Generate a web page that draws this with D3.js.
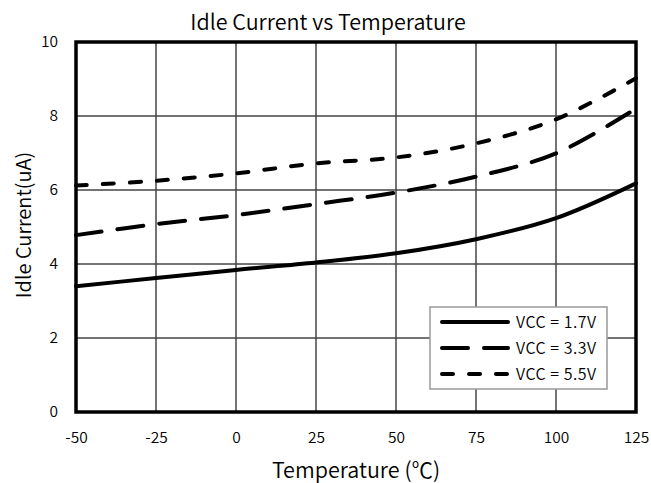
<!DOCTYPE html>
<html>
<head>
<meta charset="utf-8">
<script src="https://cdn.jsdelivr.net/npm/d3@7"></script>
<style>
  body { margin: 0; background: #fff; }
  text { font-family: "Noto Sans CJK SC", "Noto Sans", sans-serif; fill: #000; font-weight: 350; }
</style>
</head>
<body>
<svg id="chart" width="651" height="483"></svg>
<script>
const temps = [-50, -25, 0, 25, 50, 75, 100, 125];
const vcc17 = [3.40, 3.62, 3.84, 4.04, 4.29, 4.67, 5.24, 6.18];
const vcc33 = [4.78, 5.08, 5.32, 5.62, 5.93, 6.36, 6.99, 8.20];
const vcc55 = [6.12, 6.25, 6.45, 6.72, 6.88, 7.26, 7.91, 9.02];
const xTicks = [-50, -25, 0, 25, 50, 75, 100, 125];
const yTicks = [0, 2, 4, 6, 8, 10];
const seriesNames = ["VCC = 1.7V", "VCC = 3.3V", "VCC = 5.5V"];
const seriesData = [vcc17, vcc33, vcc55];
const dashes = [null, "26,16", "11,16"];

(function () {
const svg = d3.select("#chart");
const pL = 76, pR = 636, pT = 42, pB = 412;
const x = d3.scaleLinear().domain([-50, 125]).range([pL, pR]);
const y = d3.scaleLinear().domain([0, 10]).range([pB, pT]);

// grid
svg.append("g").selectAll("line").data(xTicks).join("line")
  .attr("x1", d => x(d)).attr("x2", d => x(d)).attr("y1", pT).attr("y2", pB)
  .attr("stroke", "#444").attr("stroke-width", 1.5);
svg.append("g").selectAll("line").data(yTicks).join("line")
  .attr("x1", pL).attr("x2", pR).attr("y1", d => y(d)).attr("y2", d => y(d))
  .attr("stroke", "#444").attr("stroke-width", 1.5);

const fmt = d => String(d);
const xAxis = svg.append("g").attr("transform", `translate(0,${pB})`)
  .call(d3.axisBottom(x).tickValues(xTicks).tickSize(0).tickPadding(20).tickFormat(fmt));
xAxis.select(".domain").remove();
xAxis.selectAll("text").attr("font-size", 15.5).attr("fill", "#000")
  .style("font-family", '"Noto Sans CJK SC", sans-serif').style("font-weight", 350);

const yAxis = svg.append("g").attr("transform", `translate(${pL},0)`)
  .call(d3.axisLeft(y).tickValues(yTicks).tickSize(0).tickPadding(18).tickFormat(fmt));
yAxis.select(".domain").remove();
yAxis.selectAll("text").attr("font-size", 15.5).attr("fill", "#000")
  .style("font-family", '"Noto Sans CJK SC", sans-serif').style("font-weight", 350);

// series
const line = d3.line().x((d, i) => x(temps[i])).y(d => y(d)).curve(d3.curveCatmullRom.alpha(0.5));
seriesData.forEach((s, k) => {
  svg.append("path").datum(s).attr("d", line)
    .attr("fill", "none").attr("stroke", "#000").attr("stroke-width", 4)
    .attr("stroke-linecap", "round")
    .attr("stroke-dasharray", dashes[k]);
});

// frame
svg.append("rect").attr("x", pL).attr("y", pT).attr("width", pR - pL).attr("height", pB - pT)
  .attr("fill", "none").attr("stroke", "#000").attr("stroke-width", 3.5);

// legend
const lg = svg.append("g");
lg.append("rect").attr("x", 430).attr("y", 307).attr("width", 177).attr("height", 82)
  .attr("fill", "#fff").attr("stroke", "#999").attr("stroke-width", 1.5);
seriesNames.forEach((n, k) => {
  const yy = 322 + k * 26;
  lg.append("line").attr("x1", 442).attr("x2", 508).attr("y1", yy).attr("y2", yy)
    .attr("stroke", "#000").attr("stroke-width", 4).attr("stroke-linecap", "round")
    .attr("stroke-dasharray", dashes[k]);
  lg.append("text").attr("x", 516).attr("y", yy).attr("dy", "0.35em")
    .attr("font-size", 16).attr("letter-spacing", 0.5).text(n);
});

// titles
svg.append("text").attr("x", 328).attr("y", 30).attr("text-anchor", "middle")
  .attr("font-size", 21.5).text("Idle Current vs Temperature");
svg.append("text").attr("x", 356).attr("y", 478).attr("text-anchor", "middle")
  .attr("font-size", 21.5).text("Temperature (℃)");
svg.append("text").attr("transform", "translate(31,225) rotate(-90)").attr("text-anchor", "middle")
  .attr("font-size", 20).text("Idle Current(uA)");
})();
</script>
</body>
</html>
